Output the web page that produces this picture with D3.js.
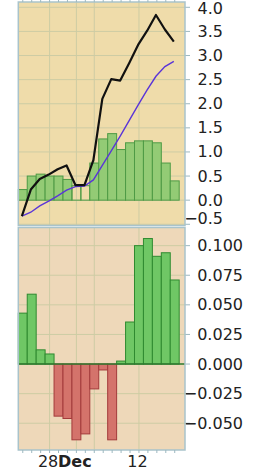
<!DOCTYPE html>
<html><head><meta charset="utf-8">
<script src="https://cdn.jsdelivr.net/npm/d3@7"></script>
<style>html,body{margin:0;padding:0;background:#fff;} svg{display:block;}</style>
</head><body>
<svg id="c" width="255" height="474"></svg>
<script>
// ---- data ----
const barIndex = d3.range(18);
const histTop = [0.22,0.50,0.54,0.50,0.50,0.43,0.30,0.30,0.77,1.27,1.38,1.05,1.19,1.23,1.23,1.19,0.77,0.40];
const hollowBars = [6,7];
const macdLine = [-0.33,0.22,0.44,0.53,0.64,0.72,0.31,0.31,0.83,2.10,2.51,2.48,2.84,3.22,3.51,3.84,3.54,3.29];
const signalLine = [-0.33,-0.25,-0.12,-0.02,0.09,0.21,0.28,0.29,0.42,0.72,1.02,1.33,1.65,1.97,2.28,2.57,2.77,2.88];
const histBottom = [0.043,0.059,0.012,0.0085,-0.044,-0.046,-0.064,-0.059,-0.021,-0.005,-0.064,0.0025,0.0355,0.100,0.106,0.091,0.094,0.071];
const topTicks = [-0.5,0,0.5,1.0,1.5,2.0,2.5,3.0,3.5,4.0];
const bottomTicks = [-0.05,-0.025,0,0.025,0.05,0.075,0.1];
const xGridPos = [3,6,8,13];
const xLabels = ["28","Dec","12"];
const xLabelPos = [3,6,13];
const xLabelBold = [false,true,false];

// ---- layout ----
const L = 18.3, R = 185;
const topP = {y0: 2, y1: 225.5};
const botP = {y0: 227.5, y1: 450};
const svg = d3.select("#c");
const x = d3.scaleLinear().domain([0, 18.65]).range([L, R]);
const yT = d3.scaleLinear().domain([-0.515, 4.11]).range([225, 2]);
const yB = d3.scaleLinear().domain([-0.0726, 0.1149]).range([450, 228]);
const font = "DejaVu Sans, Verdana, sans-serif";
const gridC = "#cdcca4";

function panel(p, bg, ticks, y, fmt, labelRight, clampTop, clampBottom) {
  svg.append("rect").attr("x", L).attr("y", p.y0).attr("width", R - L).attr("height", p.y1 - p.y0)
    .attr("fill", bg);
  const g = svg.append("g");
  g.selectAll("line.h").data(ticks).join("line")
    .attr("x1", L).attr("x2", R).attr("y1", d => y(d)).attr("y2", d => y(d))
    .attr("stroke", gridC).attr("stroke-width", 1);
  g.selectAll("line.v").data(xGridPos).join("line")
    .attr("x1", d => x(d + 0.5)).attr("x2", d => x(d + 0.5)).attr("y1", p.y0).attr("y2", p.y1)
    .attr("stroke", gridC).attr("stroke-width", 1);
  svg.append("g").selectAll("line").data(ticks).join("line")
    .attr("x1", R).attr("x2", R + 5).attr("y1", d => y(d)).attr("y2", d => y(d))
    .attr("stroke", "#9db8c0").attr("stroke-width", 1);
  svg.append("g").selectAll("text").data(ticks).join("text")
    .attr("x", labelRight).attr("y", d => Math.max(clampTop, Math.min(y(d), clampBottom)))
    .attr("text-anchor", "end").attr("dominant-baseline", "central")
    .attr("font-family", font).attr("font-size", 16).attr("fill", "#222")
    .text(fmt);
}

panel(topP, "#efdcaa", topTicks, yT, d3.format(".1f"), 223, 8.5, 218);
panel(botP, "#eed8b9", bottomTicks, yB, d3.format(".3f"), 243, 0, 1000);

// top histogram
svg.append("g").selectAll("rect").data(barIndex).join("rect")
  .attr("x", i => x(i)).attr("width", x(1) - x(0))
  .attr("y", i => yT(Math.max(0, histTop[i]))).attr("height", i => Math.abs(yT(histTop[i]) - yT(0)))
  .attr("fill", i => hollowBars.includes(i) ? "none" : "#93cb75")
  .attr("stroke", "#4e9a45").attr("stroke-width", 1);

// lines
const lineGen = arr => d3.line().x((d, i) => x(i + 0.4)).y(d => yT(d))(arr);
svg.append("path").attr("d", lineGen(signalLine)).attr("fill", "none")
  .attr("stroke", "#5a35d8").attr("stroke-width", 1.4);
svg.append("path").attr("d", lineGen(macdLine)).attr("fill", "none")
  .attr("stroke", "#111").attr("stroke-width", 2.2).attr("stroke-linejoin", "round");

// bottom histogram
svg.append("g").selectAll("rect").data(barIndex).join("rect")
  .attr("x", i => x(i)).attr("width", x(1) - x(0))
  .attr("y", i => yB(Math.max(0, histBottom[i]))).attr("height", i => Math.abs(yB(histBottom[i]) - yB(0)))
  .attr("fill", i => histBottom[i] >= 0 ? "#6fc765" : "#d4736b")
  .attr("stroke", i => histBottom[i] >= 0 ? "#2f8a30" : "#a33b3b").attr("stroke-width", 1);
svg.append("line").attr("x1", L).attr("x2", R).attr("y1", yB(0)).attr("y2", yB(0))
  .attr("stroke", "#2f7a2f").attr("stroke-width", 1.5);

// borders
[topP, botP].forEach(p => {
  svg.append("rect").attr("x", L).attr("y", p.y0).attr("width", R - L).attr("height", p.y1 - p.y0)
    .attr("fill", "none").attr("stroke", "#a9c3cb").attr("stroke-width", 1.5);
});

// small x ticks (top and bottom)
svg.append("g").selectAll("line").data(barIndex).join("line")
  .attr("x1", i => x(i + 0.5)).attr("x2", i => x(i + 0.5)).attr("y1", botP.y1).attr("y2", botP.y1 + 3)
  .attr("stroke", "#9db8c0");
svg.append("g").selectAll("line").data(barIndex).join("line")
  .attr("x1", i => x(i + 0.5)).attr("x2", i => x(i + 0.5)).attr("y1", 0).attr("y2", topP.y0)
  .attr("stroke", "#9db8c0");

// x labels
svg.append("g").selectAll("text").data(xLabels).join("text")
  .attr("x", (d, i) => x(xLabelPos[i] + 0.5) - 1.5).attr("y", 467)
  .attr("text-anchor", "middle").attr("font-family", font).attr("font-size", 16)
  .attr("font-weight", (d, i) => xLabelBold[i] ? "bold" : "normal").attr("fill", "#222")
  .text(d => d);
</script>
</body></html>
